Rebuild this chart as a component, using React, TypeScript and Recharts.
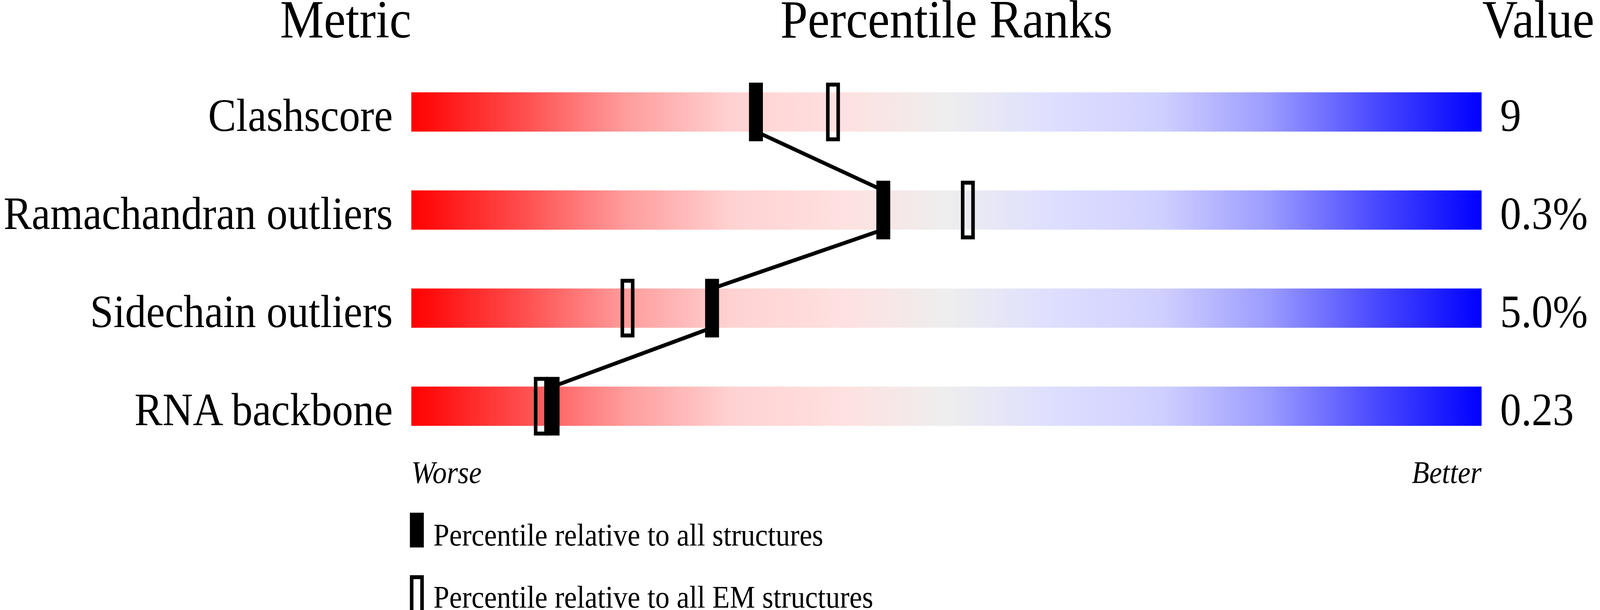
import React from 'react';
import {
  ScatterChart,
  Scatter,
  XAxis,
  YAxis,
  ReferenceArea,
  Customized,
} from 'recharts';

// validation slider: percentile ranks per metric
const metrics = ['Clashscore', 'Ramachandran outliers', 'Sidechain outliers', 'RNA backbone'];
const pctAll = [32.2, 44.1, 28.1, 13.2];
const pctEm = [39.4, 52.0, 20.2, 12.1];
const values = ['9', '0.3%', '5.0%', '0.23'];
const headers = ['Metric', 'Percentile Ranks', 'Value'];
const scaleEnds = ['Worse', 'Better'];
const legendLabels = [
  'Percentile relative to all structures',
  'Percentile relative to all EM structures',
];

const rows = metrics.map((_, i) => i);
const allPoints = metrics.map((m, i) => ({ metric: m, row: i, pct: pctAll[i] }));
const emPoints = metrics.map((m, i) => ({ metric: m, row: i, pct: pctEm[i] }));

const FONT = '"Liberation Serif", "Times New Roman", serif';
const W = 4485;
const H = 1561;
const PLOT_LEFT = 1153;
const PLOT_RIGHT = 4153;
const BAR_HALF = 0.2; // in row units (row step ~251px)
const BAR_HALF_PX = 50;
const MARK_W = 39;
const MARK_H = 150;

const STOPS = [
  ['0%', '#FF0000'],
  ['10%', '#FF4A4A'],
  ['20%', '#FF9C9C'],
  ['30%', '#FFD2D2'],
  ['40%', '#FFE0E0'],
  ['50%', '#EEEEEE'],
  ['60%', '#DEDEFF'],
  ['70%', '#D0D0FF'],
  ['80%', '#9C9CFF'],
  ['90%', '#4A4AFF'],
  ['100%', '#0000FF'],
];

const AllMarker = (props: any) => {
  const { cx, cy } = props;
  return <rect x={cx - MARK_W / 2} y={cy - MARK_H / 2} width={MARK_W} height={MARK_H} fill="#000" />;
};

const EmMarker = (props: any) => {
  const { cx, cy } = props;
  return (
    <rect
      x={cx - MARK_W / 2 + 5}
      y={cy - MARK_H / 2 + 5}
      width={MARK_W - 10}
      height={MARK_H - 10}
      fill="none"
      stroke="#000"
      strokeWidth={10}
    />
  );
};

// joins bottom edge of one bar to top edge of the next, at the marker positions
const ConnectLine = (props: any) => {
  const pts = props.points || [];
  const segs = [];
  for (let i = 0; i < pts.length - 1; i++) {
    segs.push(
      <line
        key={i}
        x1={pts[i].x}
        y1={pts[i].y + BAR_HALF_PX}
        x2={pts[i + 1].x}
        y2={pts[i + 1].y - BAR_HALF_PX}
        stroke="#000"
        strokeWidth={10}
      />
    );
  }
  return <g>{segs}</g>;
};

const RowLabel = ({ x, y, payload }: any) => (
  <text x={x} y={y} dy={49} textAnchor="end" fontFamily={FONT} fontSize={118} fill="#000">
    {metrics[payload.value]}
  </text>
);

const ValueLabel = ({ x, y, payload }: any) => (
  <text x={x} y={y} dy={49} textAnchor="start" fontFamily={FONT} fontSize={118} fill="#000">
    {values[payload.value]}
  </text>
);

const EndLabel = ({ x, y, payload }: any) => {
  const first = payload.value === 0;
  return (
    <text
      x={x}
      y={y}
      dy={71}
      textAnchor={first ? 'start' : 'end'}
      fontFamily={FONT}
      fontStyle="italic"
      fontSize={80}
      fill="#000"
    >
      {first ? scaleEnds[0] : scaleEnds[1]}
    </text>
  );
};

const Annotations = () => (
  <g fontFamily={FONT} fill="#000">
    <text x={PLOT_LEFT} y={96} fontSize={138} textAnchor="end">{headers[0]}</text>
    <text x={(PLOT_LEFT + PLOT_RIGHT) / 2} y={96} fontSize={138} textAnchor="middle">{headers[1]}</text>
    <text x={PLOT_RIGHT + 2} y={96} fontSize={138} textAnchor="start">{headers[2]}</text>

    <rect x={1149} y={1312} width={MARK_W} height={89} fill="#000" />
    <text x={1215} y={1396} fontSize={80}>{legendLabels[0]}</text>

    <rect x={1154} y={1477} width={MARK_W - 10} height={89} fill="none" stroke="#000" strokeWidth={10} />
    <text x={1215} y={1555} fontSize={80}>{legendLabels[1]}</text>
  </g>
);

export default function App() {
  // the browser viewport can be narrower than the 4485px layout; squeeze horizontally to fit
  const vw = typeof window !== 'undefined' && window.innerWidth ? window.innerWidth : W;
  const sx = Math.min(1, vw / W);
  return (
    <div style={{ width: W * sx, height: H, overflow: 'hidden' }}>
      <style>{'body{margin:0}'}</style>
      <div style={{ width: W, height: H, transform: `scaleX(${sx})`, transformOrigin: '0 0' }}>
        <ScatterChart
          width={W}
          height={H}
          margin={{ top: 161, right: 0, bottom: 296, left: 0 }}
        >
          <defs>
            <linearGradient id="slider" x1="0" y1="0" x2="1" y2="0">
              {STOPS.map(([o, c]) => (
                <stop key={o} offset={o} stopColor={c} />
              ))}
            </linearGradient>
          </defs>
          <XAxis
            type="number"
            dataKey="pct"
            domain={[0, 100]}
            ticks={[0, 100]}
            tick={<EndLabel />}
            axisLine={false}
            tickLine={false}
            tickSize={0}
            tickMargin={0}
            height={100}
          />
          <YAxis
            type="number"
            dataKey="row"
            domain={[-0.5, metrics.length - 0.5]}
            ticks={rows}
            interval={0}
            reversed
            tick={<RowLabel />}
            axisLine={false}
            tickLine={false}
            tickSize={0}
            tickMargin={52}
            width={PLOT_LEFT}
          />
          <YAxis
            yAxisId="value"
            orientation="right"
            type="number"
            dataKey="row"
            domain={[-0.5, metrics.length - 0.5]}
            allowDataOverflow
            ticks={rows}
            interval={0}
            reversed
            tick={<ValueLabel />}
            axisLine={false}
            tickLine={false}
            tickSize={0}
            tickMargin={52}
            width={W - PLOT_RIGHT}
          />
          {rows.map((r) => (
            <ReferenceArea
              key={r}
              x1={0}
              x2={100}
              y1={r - BAR_HALF}
              y2={r + BAR_HALF}
              fill="url(#slider)"
              fillOpacity={1}
              stroke="none"
            />
          ))}
          <Scatter data={emPoints} shape={<EmMarker />} isAnimationActive={false} />
          <Scatter
            data={allPoints}
            shape={<AllMarker />}
            line={ConnectLine}
            isAnimationActive={false}
          />
          <Customized component={Annotations} />
        </ScatterChart>
      </div>
    </div>
  );
}
